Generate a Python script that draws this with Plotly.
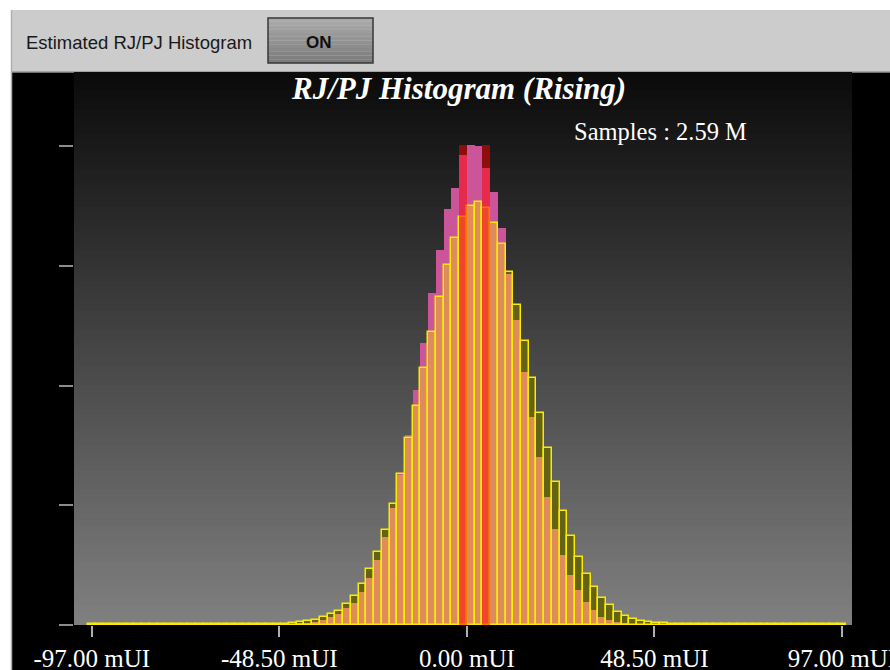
import plotly.graph_objects as go

# ---- data -------------------------------------------------------------
# histogram bin centres (mUI), 2 mUI wide bins
bin_centers = list(range(-97, 98, 2))

# measured RJ/PJ histogram (counts, thousands)
measured = [
    0.3, 0.3, 0.3, 0.3, 0.3, 0.3, 0.3, 0.3, 0.3, 0.3, 0.3, 0.3,
    0.3, 0.3, 0.3, 0.3, 0.3, 0.3, 0.3, 0.3, 0.3, 0.3, 0.3, 0.3,
    0.3, 0.3, 0.3, 0.7, 1.0, 1.3, 1.7, 2.7, 3.7, 5.7, 7.3, 11.0,
    15.7, 21.7, 29.4, 39.1, 50.8, 63.5, 78.5, 94.2, 110.9, 125.3, 138.9, 146.0,
    157.0, 160.3, 160.0, 152.6, 144.6, 132.6, 117.2, 101.9, 84.5, 69.5, 56.1, 42.8,
    32.1, 23.4, 16.7, 11.7, 7.7, 5.0, 2.8, 1.7, 1.1, 0.7, 0.5, 0.4,
    0.3, 0.3, 0.3, 0.3, 0.3, 0.3, 0.3, 0.3, 0.3, 0.3, 0.3, 0.3,
    0.3, 0.3, 0.3, 0.3, 0.3, 0.3, 0.3, 0.3, 0.3, 0.3, 0.3, 0.3,
    0.3, 0.3,
]

# estimated RJ (Gaussian) histogram (counts, thousands)
estimated = [
    0.3, 0.3, 0.3, 0.3, 0.3, 0.3, 0.3, 0.3, 0.3, 0.3, 0.3, 0.3,
    0.3, 0.3, 0.3, 0.3, 0.3, 0.3, 0.3, 0.3, 0.3, 0.3, 0.3, 0.3,
    0.4, 0.5, 0.7, 1.0, 1.3, 1.8, 2.6, 3.6, 4.7, 7.0, 9.7, 13.7,
    18.7, 24.4, 31.7, 40.4, 50.4, 62.5, 73.1, 85.8, 97.9, 109.6, 120.2, 129.3,
    136.3, 139.9, 141.3, 139.3, 134.3, 127.3, 117.9, 106.9, 94.9, 82.5, 70.8, 59.1,
    47.8, 38.1, 29.7, 22.7, 17.0, 12.7, 9.0, 6.7, 4.3, 3.1, 2.0, 1.4,
    1.0, 0.8, 0.6, 0.4, 0.3, 0.3, 0.3, 0.3, 0.3, 0.3, 0.3, 0.3,
    0.3, 0.3, 0.3, 0.3, 0.3, 0.3, 0.3, 0.3, 0.3, 0.3, 0.3, 0.3,
    0.3, 0.3,
]

# estimated PJ components
pj_centers = [-1, 5]
pj_counts = [160.3, 160.3]

x_tick_vals = [-97, -48.5, 0, 48.5, 97]
x_tick_text = ["-97.00 mUI", "-48.50 mUI", "0.00 mUI", "48.50 mUI", "97.00 mUI"]
y_tick_vals = [0, 40, 80, 120, 160]

title_text = "RJ/PJ Histogram (Rising)"
samples_text = "Samples : 2.59 M"
toggle_label = "Estimated RJ/PJ Histogram"
toggle_state = "ON"

# ---- geometry helpers (figure pixels -> paper coords) ------------------
W, H = 890, 670
PL, PR, PT, PB = 74, 852, 73, 625


def px(x):
    return (x - PL) / (PR - PL)


def py(y):
    return (PB - y) / (PB - PT)


# ---- histogram layers ---------------------------------------------------
overlap = [min(m, e) for m, e in zip(measured, estimated)]
meas_excess = [m - o for m, o in zip(measured, overlap)]
est_excess = [e - o for e, o in zip(estimated, overlap)]

BW = 2.0
fig = go.Figure()
fig.add_bar(x=bin_centers, y=overlap, width=BW,
            marker=dict(color="rgb(222,140,92)", line=dict(width=0)))
fig.add_bar(x=bin_centers, y=meas_excess, base=overlap, width=BW,
            marker=dict(color="rgb(204,84,152)", line=dict(width=0)))
fig.add_bar(x=bin_centers, y=est_excess, base=overlap, width=BW,
            marker=dict(color="rgb(100,98,20)", line=dict(width=0)))
fig.add_bar(x=bin_centers, y=estimated, width=BW,
            marker=dict(color="rgba(0,0,0,0)",
                        line=dict(color="rgb(250,235,0)", width=1.5)))
fig.add_bar(x=pj_centers, y=pj_counts, width=BW,
            marker=dict(color="rgba(255,0,0,0.5)", line=dict(width=0)))

# ---- background shapes ---------------------------------------------------
shapes = []
# dark chart panel
shapes.append(dict(type="rect", xref="paper", yref="paper",
                   x0=px(12), x1=px(W), y0=py(H), y1=py(72),
                   fillcolor="black", line=dict(width=0), layer="below"))
# control strip
shapes.append(dict(type="rect", xref="paper", yref="paper",
                   x0=px(11), x1=px(W), y0=py(72), y1=py(10),
                   fillcolor="rgb(204,204,204)", line=dict(width=0), layer="below"))
shapes.append(dict(type="line", xref="paper", yref="paper",
                   x0=px(11), x1=px(W), y0=py(72), y1=py(72),
                   line=dict(color="rgb(150,150,150)", width=1.5), layer="below"))
shapes.append(dict(type="line", xref="paper", yref="paper",
                   x0=px(11.5), x1=px(11.5), y0=py(H), y1=py(10),
                   line=dict(color="rgb(175,175,175)", width=1.5), layer="below"))

# vertical gradient inside the plotting area
N = 90
for i in range(N):
    t0 = i / N
    t1 = (i + 1) / N
    g = int(round(10 + 118 * (i + 0.5) / N))
    shapes.append(dict(type="rect", xref="paper", yref="paper",
                       x0=0, x1=1, y0=1 - t1, y1=1 - t0 + 0.002,
                       fillcolor=f"rgb({g},{g},{g})", line=dict(width=0),
                       layer="below"))

# toggle button
bx0, bx1, by0, by1 = 268, 373, 18, 63
NB = 12
for i in range(NB):
    ya = by0 + (by1 - by0) * i / NB
    yb = by0 + (by1 - by0) * (i + 1) / NB
    g = int(round(172 - 50 * (i + 0.5) / NB))
    shapes.append(dict(type="rect", xref="paper", yref="paper",
                       x0=px(bx0), x1=px(bx1), y0=py(yb), y1=py(ya),
                       fillcolor=f"rgb({g},{g},{g})", line=dict(width=0),
                       layer="below"))
shapes.append(dict(type="rect", xref="paper", yref="paper",
                   x0=px(bx0), x1=px(bx1), y0=py(by1), y1=py(by0),
                   fillcolor="rgba(0,0,0,0)",
                   line=dict(color="rgb(55,55,55)", width=1.5), layer="below"))

annotations = [
    dict(text=f"<b><i>{title_text}</i></b>", xref="paper", yref="paper",
         x=px(458), y=py(88), showarrow=False, xanchor="center", yanchor="middle",
         font=dict(family="Liberation Serif", size=31, color="white")),
    dict(text=samples_text, xref="paper", yref="paper",
         x=px(660), y=py(131), showarrow=False, xanchor="center", yanchor="middle",
         font=dict(family="Liberation Serif", size=24.5, color="white")),
    dict(text=toggle_label, xref="paper", yref="paper",
         x=px(24), y=py(42), showarrow=False, xanchor="left", yanchor="middle",
         font=dict(family="Liberation Sans", size=18.5, color="rgb(25,25,25)")),
    dict(text=f"<b>{toggle_state}</b>", xref="paper", yref="paper",
         x=px(319), y=py(42), showarrow=False, xanchor="center", yanchor="middle",
         font=dict(family="Liberation Sans", size=17, color="rgb(15,15,15)")),
]

fig.update_layout(
    width=W, height=H,
    margin=dict(l=PL, r=W - PR, t=PT, b=H - PB, pad=0, autoexpand=False),
    paper_bgcolor="white", plot_bgcolor="rgba(0,0,0,0)",
    barmode="overlay", bargap=0, showlegend=False,
    shapes=shapes, annotations=annotations,
    xaxis=dict(range=[-101.6, 99.6], tickvals=x_tick_vals, ticktext=x_tick_text,
               ticks="outside", ticklen=11, tickwidth=1.5, tickcolor="rgb(175,175,175)",
               tickfont=dict(family="Liberation Serif", size=25, color="white"),
               ticklabeloverflow="allow", automargin=False,
               showgrid=False, zeroline=False, showline=False, fixedrange=True),
    yaxis=dict(range=[0, 184.4], tickvals=y_tick_vals, ticks="outside",
               ticklen=14, tickwidth=2, tickcolor="rgb(140,140,140)",
               showticklabels=False, showgrid=False, zeroline=False,
               showline=False, automargin=False, fixedrange=True),
)

fig.write_html("out.html")
